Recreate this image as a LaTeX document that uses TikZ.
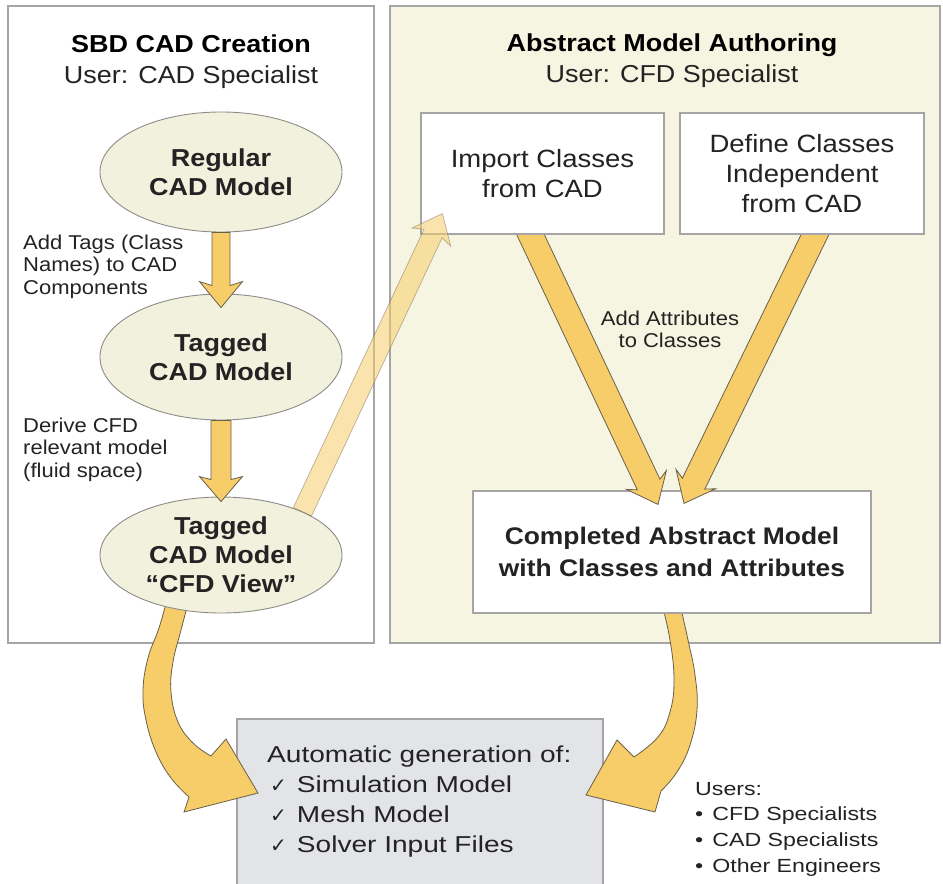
\documentclass[tikz,border=0pt]{standalone}
\usepackage{fontspec}
\setmainfont{Liberation Sans}[FakeStretch=1.1]
\newfontfamily\widefont{Liberation Sans}[FakeStretch=1.22]
\newfontfamily\symfont{DejaVu Sans}
\usetikzlibrary{shapes.geometric,calc}
\definecolor{arrowfill}{RGB}{247,205,105}
\definecolor{arrowline}{RGB}{105,95,75}
\definecolor{panelfill}{RGB}{246,245,226}
\definecolor{ellfill}{RGB}{242,241,221}
\definecolor{ellgray}{RGB}{140,140,135}
\definecolor{bordergray}{RGB}{165,165,165}
\definecolor{boxgray}{RGB}{227,228,231}
\definecolor{txt}{RGB}{35,35,35}
\newcommand\titfont{\bfseries\fontsize{24.5}{31}\selectfont}
\newcommand\usrlinefont{\fontsize{24.5}{31}\selectfont}
\newcommand\ellfont{\bfseries\fontsize{24.5}{29}\selectfont}
\newcommand\boxfont{\fontsize{25}{30}\selectfont}
\newcommand\cmpfont{\bfseries\fontsize{24}{32}\selectfont}
\newcommand\lblfont{\fontsize{20}{22.5}\selectfont}
\newcommand\genfont{\widefont\fontsize{23}{30}\selectfont}
\newcommand\usrfont{\widefont\fontsize{19}{25.7}\selectfont}
\newcommand\chk{{\symfont\fontsize{20}{30}\selectfont ✓}}
% #1 style, #2 start, #3 tip, #4 half shaft width, #5 half head width, #6 head length, #7 barb distance
\newcommand\fatarrow[7]{%
  \coordinate (faH) at ($(#3)!#6!(#2)$);
  \coordinate (faB) at ($(#3)!#7!(#2)$);
  \path[#1] ($(#2)!#4!90:(#3)$) -- ($(faH)!#4!90:(#3)$) -- ($(faB)!#5!90:(#3)$) -- (#3)
    -- ($(faB)!#5!-90:(#3)$) -- ($(faH)!#4!-90:(#3)$) -- ($(#2)!#4!-90:(#3)$) -- cycle;}
\pgfdeclarelayer{back}
\pgfdeclarelayer{mid}
\pgfsetlayers{back,mid,main}
\begin{document}
\begin{tikzpicture}[x=1pt,y=-1pt,
  panel/.style={draw=bordergray, line width=1.2pt},
  cadell/.style={ellipse, draw=ellgray, line width=0.9pt, fill=ellfill, inner sep=0pt,
    minimum width=242pt, font=\ellfont, align=center, text=txt},
  whitebox/.style={rectangle, draw=bordergray, line width=1.2pt, fill=white, inner sep=0pt,
    align=center, text=txt},
  fat/.style={fill=arrowfill, draw=arrowline, line width=0.8pt, line join=miter},
  lightfat/.style={fill=arrowfill, fill opacity=0.55, draw=arrowline, draw opacity=0.45, line width=0.7pt},
  lbl/.style={inner sep=0pt, font=\lblfont, text=txt, align=left},
  ttl/.style={inner sep=0pt, anchor=base, text=black},
]
\useasboundingbox (0,0) rectangle (943,884);
\clip (0,0) rectangle (943,884);

\begin{pgfonlayer}{back}
  \fill[white] (0,0) rectangle (943,884);
  \draw[panel, fill=white] (8,6) rectangle (374,643);
  \draw[panel, fill=panelfill] (390,6) rectangle (940,643);
  \draw[panel, fill=boxgray] (237,719) rectangle (603,900);
\end{pgfonlayer}

\begin{pgfonlayer}{mid}
  % curved arrows to the generation box
  \path[fat] plot[smooth, tension=0.7] coordinates {(190,596) (181,630) (173,662) (171,692) (178,722) (193,743) (211,756)}
    -- (226,739) -- (258,793) -- (184,812)
    -- plot[smooth, tension=0.7] coordinates {(189,797) (171,778) (156,752) (146,720) (143,690) (148,658) (159,628) (168,596)} -- cycle;
  \path[fat] plot[smooth, tension=0.7] coordinates {(661,600) (670,640) (674,680) (670,712) (658,737) (634,757)}
    -- (617,740) -- (586,795) -- (655,812)
    -- plot[smooth, tension=0.7] coordinates {(661,791) (677,772) (690,745) (697,710) (695,675) (688,640) (679,600)} -- cycle;
  \node[whitebox, font=\cmpfont, minimum width=398pt, minimum height=122pt] (cmp) at (672,552)
    {Completed Abstract Model\\with Classes and Attributes};
\end{pgfonlayer}

% titles
\node[ttl, font=\titfont] (t1) at (191,52) {SBD CAD Creation};
\node[ttl, font=\usrlinefont, text=txt] (u1) at (191,83) {User: CAD Specialist};
\node[ttl, font=\titfont] (t2) at (672,51) {Abstract Model Authoring};
\node[ttl, font=\usrlinefont, text=txt] (u2) at (672,82) {User: CFD Specialist};

% left column
\node[cadell, minimum height=120pt] (rc) at (221,172) {Regular\\CAD Model};
\node[cadell, minimum height=126pt] (tg) at (221,357) {Tagged\\CAD Model};
\node[cadell, minimum height=116pt] (cfd) at (221,555) {Tagged\\CAD Model\\“CFD View”};

\node[lbl, anchor=north west] (lab1) at (23,234.5) {Add Tags (Class\\Names) to CAD\\Components};
\node[lbl, anchor=north west] (lab2) at (23,417.5) {Derive CFD\\relevant model\\(fluid space)};

% right column boxes
\node[whitebox, font=\boxfont, minimum width=243pt, minimum height=121pt] (imp) at (542.5,173.5) {Import Classes\\from CAD};
\node[whitebox, font=\boxfont, minimum width=244pt, minimum height=121pt] (def) at (802,173.5) {Define Classes\\Independent\\from CAD};
\node[lbl, anchor=north, align=center] (lab3) at (670,310.5) {Add Attributes\\to Classes};

% bottom texts
\node[anchor=north west, inner sep=0pt, font=\genfont, align=left, text=txt] (gen) at (267,746)
  {Automatic generation of:\\\hspace*{3pt}\chk\hspace{10pt}Simulation Model\\\hspace*{3pt}\chk\hspace{10pt}Mesh Model\\\hspace*{3pt}\chk\hspace{10pt}Solver Input Files};
\node[anchor=north west, inner sep=0pt, font=\usrfont, align=left, text=txt] (usr) at (695,782)
  {Users:\\•\hspace{9pt}CFD Specialists\\•\hspace{9pt}CAD Specialists\\•\hspace{9pt}Other Engineers};

% straight arrows, left column
\coordinate (a1e) at ($(tg.north)+(0,14)$);
\fatarrow{fat}{rc.south}{a1e}{9pt}{21.5pt}{22pt}{26pt}
\coordinate (a2e) at ($(cfd.north)+(0,5)$);
\fatarrow{fat}{tg.south}{a2e}{10pt}{21.5pt}{22pt}{25pt}

% arrows into the completed model (behind the upper boxes, over the lower box)
\coordinate (a3e) at ($(cmp.north)+(-14,14)$);
\coordinate (a3t) at ($(imp.south)+(-12,0)$);
\coordinate (a3s) at ($(a3t)!-12pt!(a3e)$);
\coordinate (a4e) at ($(cmp.north)+(12,13)$);
\coordinate (a4t) at ($(def.south)+(13,0)$);
\coordinate (a4s) at ($(a4t)!-12pt!(a4e)$);
\begin{pgfonlayer}{mid}
  \fatarrow{fat}{a3s}{a3e}{12.5pt}{22pt}{22pt}{27pt}
  \fatarrow{fat}{a4s}{a4e}{12.5pt}{22pt}{22pt}{27pt}
\end{pgfonlayer}

% light arrow from CFD view to import classes
\coordinate (a5e) at ($(imp.south west)+(22,-21)$);
\fatarrow{lightfat}{cfd.28}{a5e}{10pt}{21.5pt}{22pt}{26pt}
\end{tikzpicture}
\end{document}
